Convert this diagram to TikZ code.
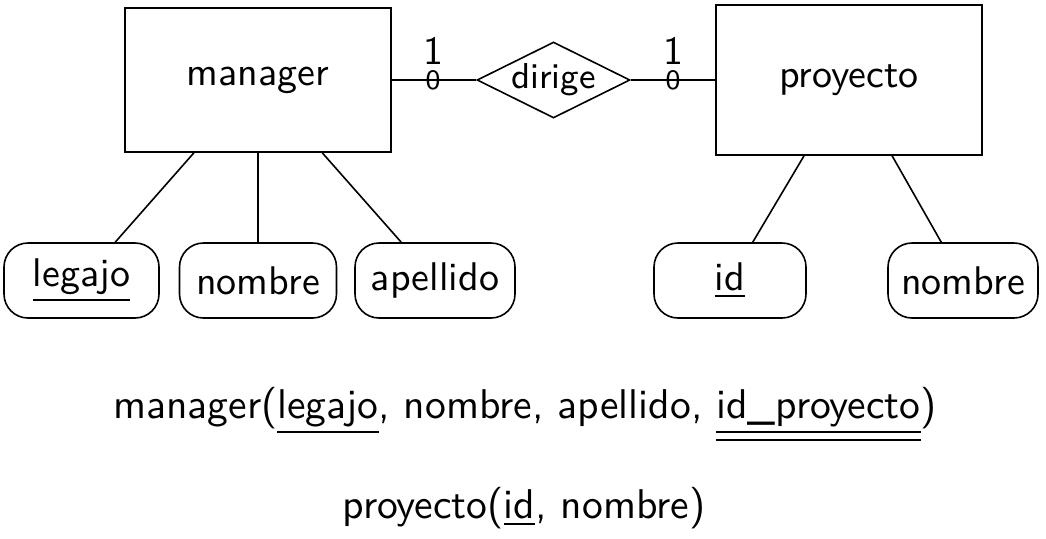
\documentclass[tikz,border=0pt]{standalone}
\usetikzlibrary{shapes.geometric}
\renewcommand{\familydefault}{\sfdefault}
\begin{document}
\begin{tikzpicture}[x=0.25pt,y=-0.25pt, font=\sffamily,
  entity/.style={draw, rectangle, inner sep=0pt, minimum width=66.5pt, minimum height=36pt},
  attr/.style={draw, rectangle, rounded corners=6pt, inner sep=0pt, minimum height=18.75pt},
  rel/.style={draw, diamond, aspect=2, inner sep=0pt, minimum width=38.25pt, minimum height=19pt, font=\sffamily\small},
  cardtop/.style={inner sep=0pt},
  cardbot/.style={inner sep=0pt, font=\sffamily\scriptsize},
  schema/.style={anchor=base, inner sep=0pt, font=\sffamily\fontsize{10.4pt}{12pt}\selectfont}]
\useasboundingbox (0,0) rectangle (1046,538);
% entities and relationship
\node[entity] (manager) at (258,80) {manager};
\node[entity, minimum height=37.5pt] (proyecto) at (849,80) {proyecto};
\node[rel] (dirige) at (553.5,80) {dirige};
\draw (manager) -- (dirige);
\draw (dirige) -- (proyecto);
% cardinalities
\node[cardtop] (c1t) at (433,51) {1};
\node[cardbot] (c1b) at (433,80) {0};
\node[cardtop] (c2t) at (673,51) {1};
\node[cardbot] (c2b) at (673,80) {0};
% attributes
\node[attr, minimum width=38.75pt] (legajo) at (81.5,280.5) {\underline{legajo}};
\node[attr, minimum width=39.25pt] (nombre) at (258,280.5) {nombre};
\node[attr, minimum width=40pt] (apellido) at (435,280.5) {apellido};
\node[attr, minimum width=38pt] (id) at (730,280.5) {\underline{id}};
\node[attr, minimum width=37.5pt] (nombreb) at (963,280.5) {nombre};
\draw (manager) -- (legajo);
\draw (manager) -- (nombre);
\draw (manager) -- (apellido);
\draw (proyecto) -- (id);
\draw (proyecto) -- (nombreb);
% relational schema
\node[schema] (rel1) at (525,418) {manager(\underline{legajo}, nombre, apellido, \underline{\underline{id\_proyecto}})};
\node[schema] (rel2) at (524,518) {proyecto(\underline{id}, nombre)};
\end{tikzpicture}
\end{document}
